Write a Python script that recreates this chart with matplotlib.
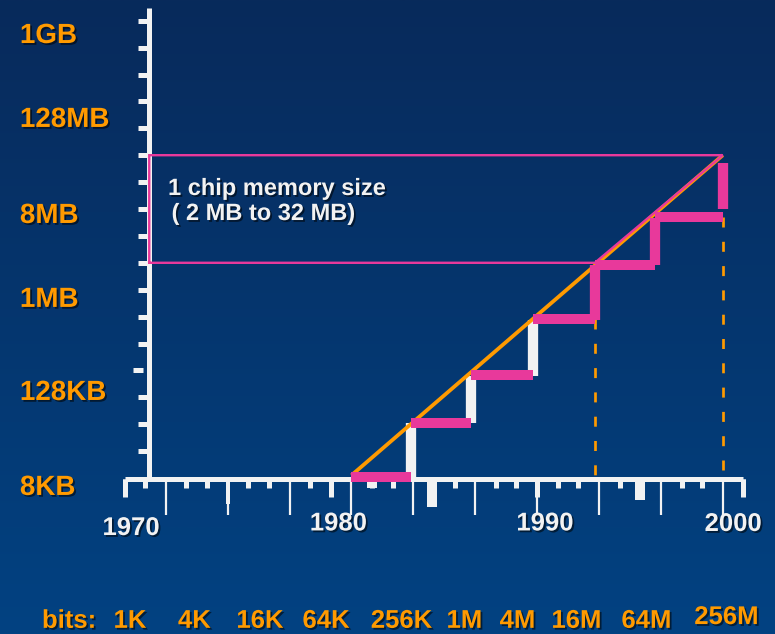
import numpy as np
import matplotlib
matplotlib.use("Agg")
import matplotlib.pyplot as plt
import matplotlib.patheffects as pe
from matplotlib.colors import LinearSegmentedColormap
from matplotlib.ticker import FixedLocator

# ---------------------------------------------------------------------------
# Data (x in calendar years, y in doublings of memory size above 8 KB)
# ---------------------------------------------------------------------------
axis_years = (1970, 2000)
generation_years = [1972, 1975, 1978, 1981, 1984, 1987, 1990, 1993, 1996, 1999]
decade_years = [1970, 1980, 1990, 2000]
bits_labels = ["1K", "4K", "16K", "64K", "256K", "1M", "4M", "16M", "64M", "256M"]
size_labels = ["8KB", "128KB", "1MB", "8MB", "128MB", "1GB"]
year_labels = ["1970", "1980", "1990", "2000"]

# minimum memory of a machine built from one chip generation (staircase)
step_years = [1981.0, 1983.9, 1986.8, 1989.8, 1992.8, 1995.7, 1999.0]
step_levels = [0.05, 2.06, 3.83, 5.90, 7.92, 9.69]
jump_low = [0.05, 2.06, 3.79, 5.88, 7.90, 10.0]
jump_high = [2.06, 3.79, 5.87, 7.90, 9.65, 11.7]
jump_is_pink = [False, False, False, True, True, True]

# growth of a single DRAM chip
trend_years = [1981.0, 1999.0]
trend_levels = [0.1, 12.0]

# "1 chip memory size" band: 2 MB .. 32 MB
band_low, band_high = 8.0, 12.0
band_start_year = 1992.8
band_end_year = 1999.0

# ---------------------------------------------------------------------------
# Layout (slide geometry)
# ---------------------------------------------------------------------------
W, H = 775, 634
X0_PX, PX_PER_YEAR = 124.5, 20.63
Y0_PX, PX_PER_STEP = 478.0, 26.9
xlim = (1970 - X0_PX / PX_PER_YEAR, 1970 + (W - X0_PX) / PX_PER_YEAR)
ylim = ((Y0_PX - H) / PX_PER_STEP, Y0_PX / PX_PER_STEP)
PT = 0.72  # points per pixel at 100 dpi

left_axis_year = 1971.2
bottom_axis_level = -0.05

size_label_baselines = [-0.63, 2.90, 6.36, 9.48, 13.05, 16.17]
size_label_x = 1964.93
year_label_x = [1970.32, 1980.37, 1990.38, 1999.5]
year_label_baselines = [-2.12, -1.95, -1.95, -1.97]
bits_label_x = [1970.27, 1973.39, 1976.57, 1979.77, 1983.43,
                1986.48, 1989.05, 1991.91, 1995.30, 1999.18]
bits_label_baselines = [-5.57] * 9 + [-5.43]

ORANGE = "#FF9A00"
PINK = "#E8399B"
WHITE = "#F2F2F2"
BG_TOP, BG_BOTTOM = "#082A5B", "#024282"
FONT = ["Liberation Sans", "DejaVu Sans"]
plt.rcParams["lines.scale_dashes"] = False

shadow = [pe.withSimplePatchShadow(offset=(1.3, -1.3), shadow_rgbFace="black", alpha=0.55)]

fig = plt.figure(figsize=(W / 100, H / 100), dpi=100)
ax = fig.add_axes([0, 0, 1, 1])

# background gradient
bg = LinearSegmentedColormap.from_list("bg", [BG_TOP, BG_BOTTOM])
ax.imshow(np.linspace(0, 1, 256)[:, None], cmap=bg, aspect="auto",
          extent=[xlim[0], xlim[1], ylim[0], ylim[1]], origin="upper", zorder=0)
ax.set_xlim(*xlim)
ax.set_ylim(*ylim)
ax.set_facecolor(BG_TOP)

# axes lines
for side in ("top", "right"):
    ax.spines[side].set_visible(False)
ax.spines["left"].set_position(("data", left_axis_year))
ax.spines["left"].set_bounds(bottom_axis_level, 17.46)
ax.spines["bottom"].set_position(("data", bottom_axis_level))
ax.spines["bottom"].set_bounds(*axis_years)
for side in ("left", "bottom"):
    ax.spines[side].set_color(WHITE)
    ax.spines[side].set_linewidth(5 * PT)
    ax.spines[side].set_capstyle("butt")

# x ticks: every year short, chip generations long and thin
ax.xaxis.set_major_locator(FixedLocator(generation_years))
ax.xaxis.set_minor_locator(FixedLocator(list(range(axis_years[0], axis_years[1] + 1))))
ax.tick_params(axis="x", which="major", direction="out", length=35.8 * PT,
               width=2.2 * PT, color=WHITE, labelbottom=False)
ax.tick_params(axis="x", which="minor", direction="out", length=8.5 * PT,
               width=5 * PT, color=WHITE)
# y ticks: one per doubling
left_ticks = [k for k in range(1, 18) if k != 4]
ax.yaxis.set_major_locator(FixedLocator(left_ticks))
ax.yaxis.set_minor_locator(FixedLocator([]))
ax.tick_params(axis="y", which="major", direction="out", length=11 * PT,
               width=5 * PT, color=WHITE, labelleft=False)
# loose dash beside the axis at 128KB
dash_x0 = left_axis_year - 16.5 / PX_PER_YEAR
dash_x1 = left_axis_year - 6.5 / PX_PER_YEAR
ax.plot([dash_x0, dash_x1], [4, 4], color=WHITE, lw=5 * PT,
        solid_capstyle="butt", zorder=3)

# decade marks and wider stubs under the time axis
ax.vlines(decade_years, bottom_axis_level, -0.706, colors=WHITE,
          lw=5 * PT, capstyle="butt", zorder=3)
stub_years = [1975.0, 1982.0, 1984.9, 1995.0]
stub_depths = [-0.97, -0.36, -1.07, -0.82]
stub_widths = [4, 10, 10, 10]
for yr, d, w in zip(stub_years, stub_depths, stub_widths):
    ax.vlines(yr, bottom_axis_level, d, colors=WHITE, lw=w * PT,
              capstyle="butt", zorder=3)

# dashed guides down to the time axis
for gx, top in ((step_years[4], step_levels[3]), (step_years[6], step_levels[5])):
    ln, = ax.plot([gx, gx], [top, 0], color=ORANGE, lw=2.7 * PT,
                  dash_capstyle="butt", zorder=2.6)
    ln.set_dashes((10 * PT, 14.3 * PT))

# staircase: vertical jumps then horizontal plateaus
for yr, lo, hi, pink in zip(step_years[1:], jump_low, jump_high, jump_is_pink):
    ax.vlines(yr, lo, hi, colors=PINK if pink else WHITE, lw=10.3 * PT,
              capstyle="butt", zorder=4 if pink else 3.2)

# single chip trend
ax.plot(trend_years, trend_levels, color=ORANGE, lw=3.8 * PT,
        solid_capstyle="butt", zorder=3.5)

ax.hlines(step_levels, step_years[:-1], step_years[1:], colors=PINK,
          lw=10 * PT, capstyle="butt", zorder=4)

# band outline
band_x = [left_axis_year, band_start_year, band_end_year, left_axis_year, left_axis_year]
band_y = [band_low, band_low, band_high, band_high, band_low]
ax.plot(band_x, band_y, color=PINK, lw=2.4 * PT, solid_joinstyle="miter", zorder=4.5)

# text
for lab, yb in zip(size_labels, size_label_baselines):
    ax.text(size_label_x, yb, lab, color=ORANGE, fontsize=20, fontweight="bold",
            family=FONT, ha="left", va="baseline", path_effects=shadow, zorder=6)
for lab, xc, yb in zip(year_labels, year_label_x, year_label_baselines):
    ax.text(xc, yb, lab, color=WHITE, fontsize=18.5, fontweight="bold",
            family=FONT, ha="center", va="baseline", path_effects=shadow, zorder=6)
ax.text(1966.0, bits_label_baselines[0], "bits:", color=ORANGE, fontsize=18.5,
        fontweight="bold", family=FONT, ha="left", va="baseline",
        path_effects=shadow, zorder=6)
for lab, xc, yb in zip(bits_labels, bits_label_x, bits_label_baselines):
    ax.text(xc, yb, lab, color=ORANGE, fontsize=18.5, fontweight="bold",
            family=FONT, ha="center", va="baseline", path_effects=shadow, zorder=6)

ax.text(1972.11, 10.52, "1 chip memory size", color=WHITE, fontsize=17,
        fontweight="bold", family=FONT, ha="left", va="baseline",
        path_effects=shadow, zorder=6)
ax.text(1972.28, 9.59, "( 2 MB to 32 MB)", color=WHITE, fontsize=17,
        fontweight="bold", family=FONT, ha="left", va="baseline",
        path_effects=shadow, zorder=6)

fig.savefig("out.png", dpi=100)
